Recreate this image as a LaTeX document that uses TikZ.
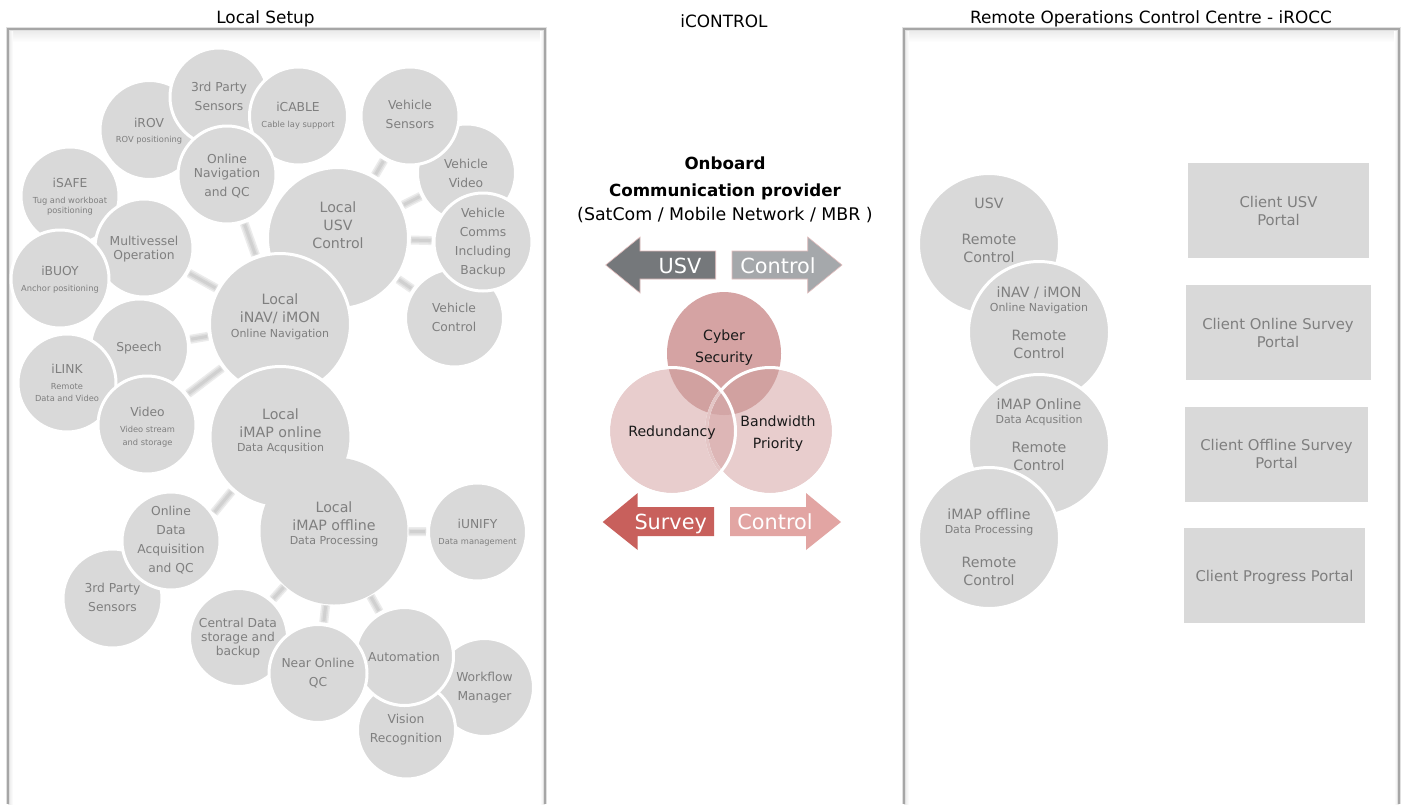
\documentclass[tikz,border=0pt]{standalone}
\usepackage{fontspec}
\setmainfont{DejaVu Sans}
\usetikzlibrary{shapes.geometric}
\definecolor{bubfill}{HTML}{D9D9D9}
\definecolor{bubtext}{HTML}{7F7F7F}
\definecolor{panelline}{HTML}{A6A6A6}
\definecolor{cyberc}{HTML}{D5A3A3}
\definecolor{venn}{HTML}{E8CDCD}
\definecolor{vennrc}{HTML}{D1A1A0}
\definecolor{vennrb}{HTML}{DDB6B6}
\definecolor{vennall}{HTML}{D3A6A6}
\definecolor{vennring}{HTML}{E4C6C6}
\definecolor{arrusv}{HTML}{75787B}
\definecolor{arrctl}{HTML}{A5A8AB}
\definecolor{arrsur}{HTML}{C8605C}
\definecolor{arrct2}{HTML}{E2A5A3}
\definecolor{arredge}{HTML}{E3BDBD}
\definecolor{darktext}{HTML}{1A1A1A}
\definecolor{stubout}{HTML}{ECECEC}
\definecolor{stubmid}{HTML}{DEDEDE}
\definecolor{stubcore}{HTML}{D0D0D0}
\newcommand{\fs}[2]{\fontsize{#1}{#2}\selectfont}
\newcommand{\subS}{\fs{8.3}{10}}
\newcommand{\subM}{\fs{11}{13}}
\tikzset{
  bub/.style={circle,fill=bubfill,draw=white,line width=3pt,inner sep=0pt,minimum size={2*#1+3}},
  bubtxt/.style={text=bubtext,align=center,inner sep=0pt,font=\fs{12.3}{19}},
  bigtxt/.style={text=bubtext,align=center,inner sep=0pt,font=\fs{14.2}{18}},
  portal/.style={rectangle,fill=bubfill,inner sep=0pt,text=bubtext,align=center,font=\fs{14.8}{18}},
  stubline/.style={line cap=butt,draw=stubout,line width=9pt,shorten >=1pt,shorten <=1pt,
     postaction={draw=stubmid,line width=6pt,shorten >=1pt,shorten <=1pt},
     postaction={draw=stubcore,line width=3pt,shorten >=2pt,shorten <=2pt}},
  titletxt/.style={text=black,inner sep=0pt,font=\fs{16.9}{20}},
  arrowtxt/.style={text=white,inner sep=0pt,font=\fs{20.8}{24}},
  venntxt/.style={text=darktext,align=center,inner sep=0pt,font=\fs{14.1}{22}},
}
% \Bub{name}{x}{y}{r}{text x}{text y}{style}{text}
\newcommand{\Bub}[8]{\node[bub=#4] (#1) at (#2,#3) {};\node[#7] (#1-t) at (#5,#6) {#8};}
% panel with open lower edge
\newcommand{\Panel}[3]{%
  \shade[top color=black!9,bottom color=white] (#1,#3) rectangle (#2,#3+13);
  \shade[left color=black!10,right color=white] (#1,#3) rectangle (#1+5,804);
  \shade[left color=white,right color=black!10] (#2-5,#3) rectangle (#2,804);
  \draw[black!12,line width=3.5pt] (#1,804) -- (#1,#3) -- (#2,#3) -- (#2,804);
  \draw[panelline,line width=2pt] (#1,804) -- (#1,#3) -- (#2,#3) -- (#2,804);}
\begin{document}
\begin{tikzpicture}[x=1pt,y=-1pt]
\useasboundingbox (0,0) rectangle (1403,804);
\fill[white] (0,0) rectangle (1403,804);
\Panel{8}{545}{29}
\Panel{904}{1399}{29}
\node[titletxt] (t1) at (265.5,18.5) {Local Setup};
\node[titletxt] (t2) at (724,21) {iCONTROL};
\node[titletxt] (t3) at (1151,18.5) {Remote Operations Control Centre - iROCC};

% ---- local setup
\Bub{irov}{149.5}{130}{48}{149}{131.5}{bubtxt}{iROV\\[-4pt]{\subS ROV positioning}}
\Bub{tps}{219}{97}{47.5}{219}{96.5}{bubtxt}{3rd Party\\Sensors}
\Bub{icable}{298.5}{116}{47.5}{298}{115.5}{bubtxt}{iCABLE\\[-3pt]{\subS Cable lay support}}
\Bub{onq}{227}{175}{47.5}{227}{176.5}{bubtxt}{Online\\[-5pt]Navigation\\and QC}
\Bub{usv}{338}{238}{69}{338}{225}{bigtxt}{Local\\USV\\Control}
\Bub{vvid}{466.5}{173}{47.5}{466}{173.5}{bubtxt}{Vehicle\\Video}
\Bub{vsen}{410}{116}{47.5}{410}{114.5}{bubtxt}{Vehicle\\Sensors}
\Bub{vctl}{454.5}{318}{47.5}{454}{317.5}{bubtxt}{Vehicle\\Control}
\Bub{vcom}{483}{242}{47.5}{483}{242.5}{bubtxt}{Vehicle\\Comms\\Including\\Backup}
\Bub{isafe}{70}{196}{47.5}{70}{196.5}{bubtxt}{iSAFE\\[-3pt]{\subS Tug and workboat}\\[-9pt]{\subS positioning}}
\Bub{multi}{144}{248}{47.5}{144}{249}{bubtxt}{Multivessel\\[-5pt]Operation}
\Bub{ibuoy}{60}{279}{47.5}{60}{280}{bubtxt}{iBUOY\\[-3pt]{\subS Anchor positioning}}
\Bub{speech}{139.5}{348}{47.5}{139}{348}{bubtxt}{Speech}
\Bub{ilink}{67}{383}{47.5}{67}{382.5}{bubtxt}{iLINK\\[-3pt]{\subS Remote}\\[-7pt]{\subS Data and Video}}
\Bub{video}{147}{425}{47.5}{147.5}{427.5}{bubtxt}{Video\\[-3pt]{\subS Video stream}\\[-6pt]{\subS and storage}}
\Bub{inav}{280}{324}{69}{280}{317}{bigtxt}{Local\\iNAV/ iMON\\[-3pt]{\subM Online Navigation}}
\Bub{imon}{280.5}{437}{69}{280.5}{431}{bigtxt}{Local\\iMAP online\\[-4pt]{\subM Data Acqusition}}
\node[circle,fill=bubfill,inner sep=0pt,minimum size=147pt] (imoff) at (334,531) {};
\node[bigtxt] (imoff-t) at (334,524) {Local\\iMAP offline\\[-4pt]{\subM Data Processing}};
\Bub{iunify}{477.5}{532}{47.5}{477.5}{533}{bubtxt}{iUNIFY\\[-3pt]{\subS Data management}}
\Bub{tps2}{112.5}{598.5}{48}{112.5}{597.5}{bubtxt}{3rd Party\\Sensors}
\Bub{oda}{171}{541}{47.5}{171}{540.5}{bubtxt}{Online\\Data\\Acquisition\\and QC}
\Bub{cds}{238.5}{637.5}{47.5}{238}{638}{bubtxt}{Central Data\\[-5pt]storage and\\[-5pt]backup}
\Bub{wfm}{484.5}{687.5}{47.5}{484.5}{687.5}{bubtxt}{Workflow\\Manager}
\Bub{vis}{406.5}{730}{47.5}{406}{729.5}{bubtxt}{Vision\\Recognition}
\Bub{auto}{404.5}{656.5}{47.5}{404}{656.5}{bubtxt}{Automation}
\Bub{noq}{318}{673.5}{47.5}{318}{673.5}{bubtxt}{Near Online\\QC}

% ---- connectors
\draw[stubline] (vsen) -- (usv);
\draw[stubline] (vvid) -- (usv);
\draw[stubline] (vcom) -- (usv);
\draw[stubline] (vctl) -- (usv);
\draw[stubline] (onq) -- (inav);
\draw[stubline] (multi) -- (inav);
\draw[stubline] (speech) -- (inav);
\draw[stubline] (video) -- (inav);
\draw[stubline] (oda.33) -- (imon.228);
\draw[stubline] (iunify) -- (imoff);
\draw[stubline] (cds) -- (imoff);
\draw[stubline] (noq) -- (imoff);
\draw[stubline] (auto) -- (imoff);

% ---- iCONTROL centre
\node[inner sep=0pt,align=center,text=black,font=\fs{16.7}{26.5}] (prov) at (725,190) {\textbf{Onboard}\\\textbf{Communication provider}\\[-2pt]{\fs{17.4}{26}(SatCom / Mobile Network / MBR )}};
\coordinate (ausv) at (605.7,265);
\coordinate (actl) at (842,265);
\coordinate (asur) at (602.7,522);
\coordinate (act2) at (841,522);
\fill[arrusv,draw=arredge,line width=.6pt] (ausv) -- (640,237) -- (640,251) -- (715.7,251) -- (715.7,279) -- (640,279) -- (640,293) -- cycle;
\fill[arrctl,draw=arredge,line width=.6pt] (actl) -- (807.7,237) -- (807.7,251) -- (732,251) -- (732,279) -- (807.7,279) -- (807.7,293) -- cycle;
\fill[arrsur] (asur) -- (637.7,493) -- (637.7,507) -- (714,507) -- (714,536) -- (637.7,536) -- (637.7,550) -- cycle;
\fill[arrct2] (act2) -- (806,493) -- (806,507) -- (730,507) -- (730,536) -- (806,536) -- (806,550) -- cycle;
\node[arrowtxt] (lusv) at (680,266) {USV};
\node[arrowtxt] (lctl) at (778,266) {Control};
\node[arrowtxt] (lsur) at (670.7,524) {Survey};
\node[arrowtxt] (lct2) at (775,522) {Control};

\def\CyPath{(724,353.5) ellipse [x radius=57,y radius=61.5]}
\def\ReP{(672,431) circle [radius=62]}
\def\BaP{(770,431) circle [radius=62]}
\def\ReQ{(672,431) circle [radius=63.5]}
\def\BaQ{(770,431) circle [radius=63.5]}
\node[ellipse,fill=cyberc,inner sep=0pt,minimum width=114pt,minimum height=123pt] (cyber) at (724,353.5) {};
\node[circle,fill=venn,inner sep=0pt,minimum size=124pt] (band) at (770,431) {};
\node[circle,fill=venn,inner sep=0pt,minimum size=124pt] (redu) at (672,431) {};
\begin{scope}\clip \CyPath; \fill[vennrc] \ReP; \fill[vennrc] \BaP; \end{scope}
\begin{scope}\clip \ReP; \fill[vennrb] \BaP; \clip \BaP; \fill[vennall] \CyPath; \end{scope}
\draw[white,line width=3pt] \BaQ;
\begin{scope}\clip \ReP; \draw[vennring,line width=3pt] \BaQ; \end{scope}
\draw[white,line width=3pt] \ReQ;
\node[venntxt] (tcy) at (724,348) {Cyber\\Security};
\node[venntxt] (tre) at (672,433) {Redundancy};
\node[venntxt] (tba) at (778,434) {Bandwidth\\Priority};

% ---- remote centre
\Bub{rusv}{989}{244}{69}{989}{230}{bigtxt}{USV\\[18pt]Remote\\Control}
\Bub{rnav}{1039}{332}{69}{1039}{322.5}{bigtxt}{iNAV / iMON\\[-4pt]{\subM Online Navigation}\\[11pt]Remote\\Control}
\Bub{ron}{1039}{445}{69}{1039}{435}{bigtxt}{iMAP Online\\[-4pt]{\subM Data Acqusition}\\[11pt]Remote\\Control}
\Bub{roff}{989}{538}{69}{989}{547}{bigtxt}{iMAP offline\\[-4pt]{\subM Data Processing}\\[16pt]Remote\\Control}
\node[portal,minimum width=181pt,minimum height=95pt] (p1) at (1278.5,210.5) {Client USV\\Portal};
\node[portal,minimum width=185pt,minimum height=95pt] (p2) at (1278,332.5) {Client Online Survey\\Portal};
\node[portal,minimum width=183pt,minimum height=95pt] (p3) at (1276.5,454) {Client Offline Survey\\Portal};
\node[portal,minimum width=181pt,minimum height=95pt] (p4) at (1274.5,575.5) {\rule{0pt}{16pt}Client Progress Portal};
\end{tikzpicture}
\end{document}
